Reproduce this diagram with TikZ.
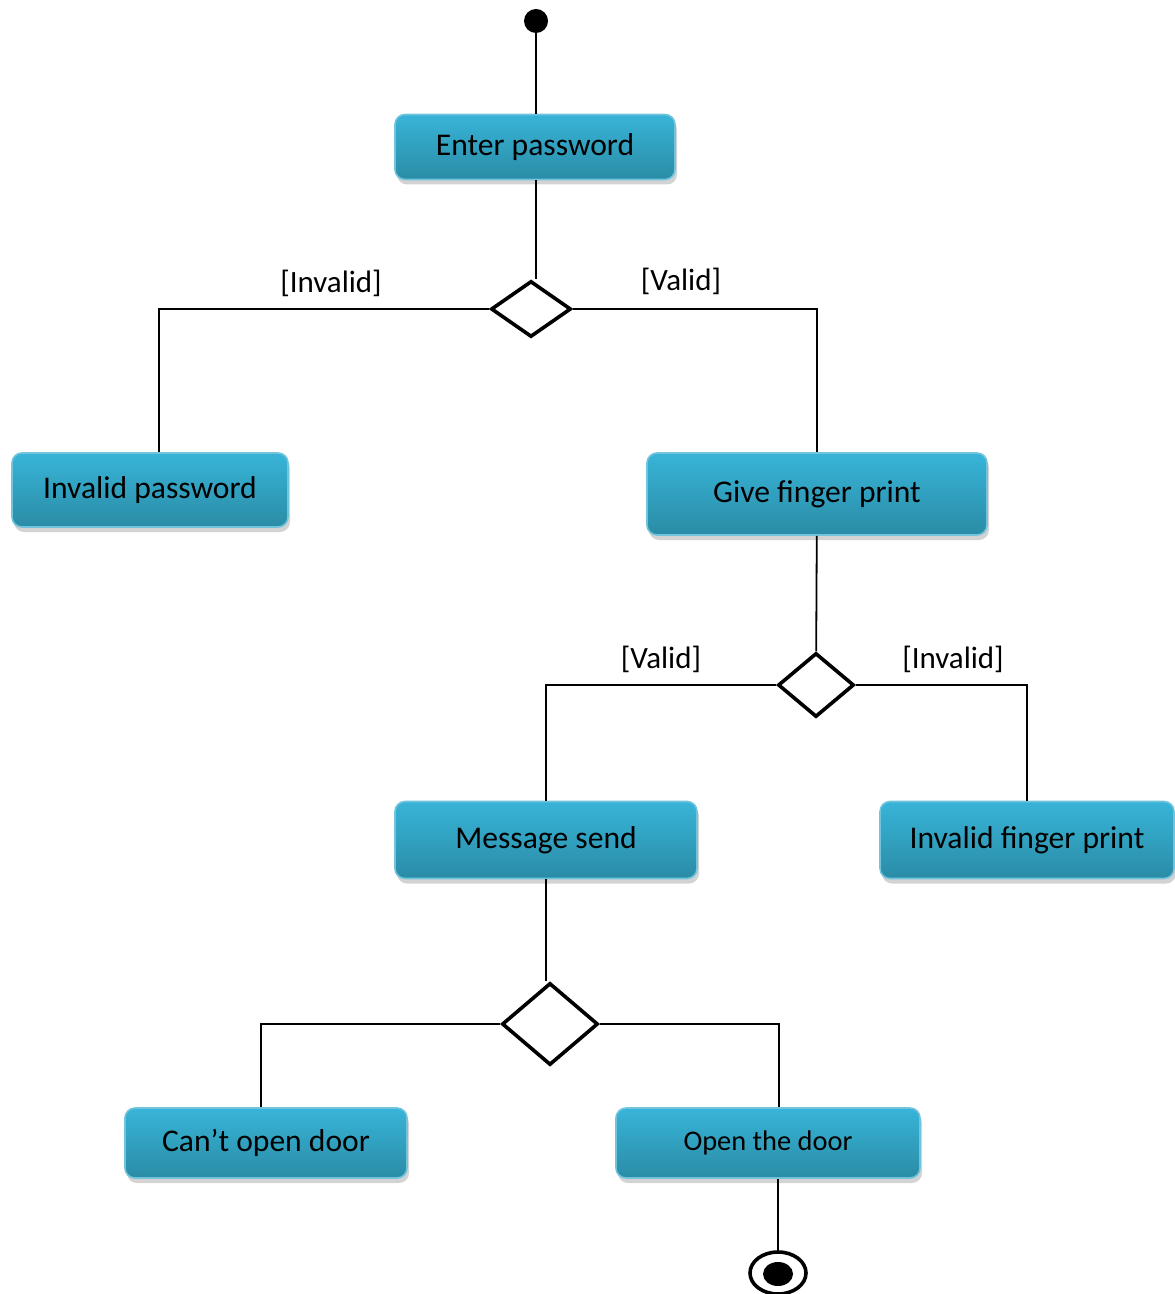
\documentclass[tikz,border=0pt]{standalone}
\usepackage{fontspec}
\setmainfont{Carlito}
\usetikzlibrary{shapes.geometric,shadows}
\definecolor{boxtop}{HTML}{38B4D8}
\definecolor{boxbot}{HTML}{2A8CA6}
\definecolor{boxedge}{HTML}{72C4DC}
\tikzset{
  act/.style={rectangle, rounded corners=5pt, draw=boxedge, line width=0.8pt,
    top color=boxtop, bottom color=boxbot, font=\fontsize{15.8}{17}\selectfont,
    drop shadow={shadow xshift=1pt, shadow yshift=-2.5pt, opacity=0.35},
    minimum height=#1, inner sep=0pt},
  act/.default=34pt,
  choice/.style={diamond, draw, line width=1.8pt, inner sep=0pt, fill=white},
  guard/.style={font=\fontsize{15.5}{17}\selectfont},
  flow/.style={line width=0.9pt}
}
\begin{document}
\begin{tikzpicture}[x=0.5pt,y=-0.5pt]
  \useasboundingbox (0,0) rectangle (1174,1294);
  \node[circle, fill, inner sep=0pt, minimum size=12pt] (start) at (536,21) {};
  \node[act=32.5pt, minimum width=140pt] (enter) at (535,147) {Enter password};
  \node[choice, minimum width=40pt, minimum height=28pt] (d1) at (531,309) {};
  \node[act=37pt, minimum width=138pt] (invpw) at (150,490) {Invalid password};
  \node[act=41pt, minimum width=170pt] (finger) at (817,494) {Give finger print};
  \node[choice, minimum width=38pt, minimum height=32pt] (d2) at (816,685) {};
  \node[act=38.5pt, minimum width=151pt] (msg) at (546,840) {Message send};
  \node[act=38.5pt, minimum width=147pt] (invfp) at (1027,840) {Invalid finger print};
  \node[choice, minimum width=48pt, minimum height=41pt] (d3) at (550,1024) {};
  \node[act=35pt, minimum width=141pt] (cant) at (266,1143) {Can’t open door};
  \node[act=35pt, minimum width=152pt, font=\fontsize{14.2}{15}\selectfont] (open) at (768,1143) {Open the door};
  \node[ellipse, draw, line width=1.8pt, minimum width=28pt, minimum height=21pt] (stop) at (778,1273) {};
  \node[ellipse, fill, minimum width=15pt, minimum height=12pt] (stopin) at (778,1274) {};
  \node[guard] (g1) at (331,283) {[Invalid]};
  \node[guard] (g2) at (681,281) {[Valid]};
  \node[guard] (g3) at (661,659) {[Valid]};
  \node[guard] (g4) at (953,659) {[Invalid]};
  \begin{scope}[flow]
    \draw (start) -- (start |- enter.north);
    \draw (start |- enter.south) -- (start |- d1.north);
    \draw (d1.west) -| ([xshift=4.5pt]invpw.north);
    \draw (d1.east) -| (finger.north);
    \draw (finger) -- (d2);
    \draw (d2.west) -| (msg.north);
    \draw (d2.east) -| (invfp.north);
    \draw (msg) -- (msg |- d3.north);
    \draw (d3.west) -| ([xshift=-2.5pt]cant.north);
    \draw (d3.east) -| ([xshift=5.5pt]open.north);
    \draw (stop |- open.south) -- (stop);
  \end{scope}
\end{tikzpicture}
\end{document}
